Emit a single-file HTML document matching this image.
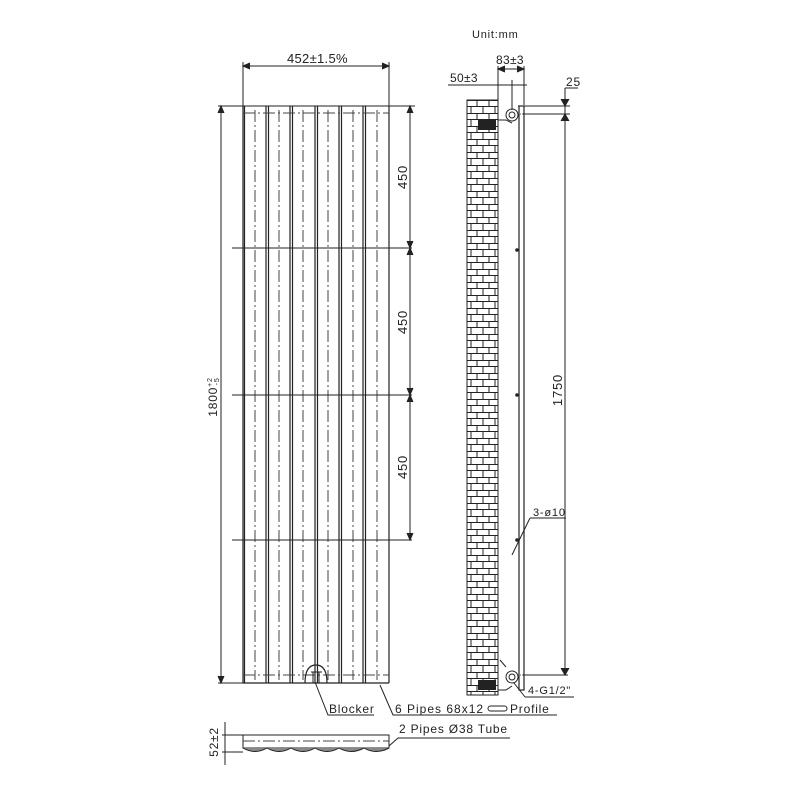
<!DOCTYPE html>
<html><head><style>body{margin:0;background:#fff}svg{display:block}text{font-family:"Liberation Sans",sans-serif;fill:#222}</style></head><body>
<svg width="800" height="800" viewBox="0 0 800 800" xmlns="http://www.w3.org/2000/svg">
<defs>
<pattern id="brick" x="467" y="100" width="30" height="13" patternUnits="userSpaceOnUse">
<rect width="30" height="13" fill="#fff"/>
<path d="M0 0.5H30M0 6.5H30M10 0V6.5M22 0V6.5M4 6.5V13M16 6.5V13M28 6.5V13" stroke="#222" stroke-width="1" fill="none"/>
</pattern>
</defs>
<g stroke="#222" stroke-width="1" fill="none">
<line x1="243" y1="62" x2="243" y2="112"/><line x1="389" y1="62" x2="389" y2="112"/>
<line x1="243" y1="66" x2="389" y2="66"/>
<line x1="218" y1="106" x2="415" y2="106"/>
<line x1="221" y1="106" x2="221" y2="683"/>
<line x1="218" y1="683" x2="243" y2="683"/>
<g stroke-width="1.2">
<path d="M243 106V683M244.5 106V683M266 106V683M268.5 106V683M290 106V683M292.5 106V683M315 106V683M317.5 106V683M339 106V683M341.5 106V683M363 106V683M365.5 106V683M389 106V683"/>
<line x1="243" y1="683" x2="389" y2="683"/>
</g>
<g stroke-dasharray="12,3,2,3" stroke="#444">
<path d="M255 110V680M279 110V680M303 110V680M328 110V680M353 110V680M377 110V680"/>
<line x1="243" y1="113" x2="389" y2="113"/>
<line x1="243" y1="675" x2="389" y2="675"/>
</g>
<path d="M232 248H412M232 395H412M232 540H412"/>
<line x1="410" y1="106" x2="410" y2="540"/>
<path d="M218 113l3 -7l3 7M218 676l3 7l3 -7M407 113l3 -7l3 7M407 241l3 7l3 -7M407 255l3 -7l3 7M407 388l3 7l3 -7M407 402l3 -7l3 7M407 533l3 7l3 -7M250 63l-7 3l7 3M382 63l7 3l-7 3" fill="#222"/>
<path d="M305 683 Q305 665 316 665 Q327 665 327 683" stroke-width="1.2"/>
<path d="M311 672H322M313 672V683M319 672V683"/>
<path d="M315 682L328 715H374"/>
<path d="M380 685L393 715H557"/>
<rect x="488" y="706" width="19" height="5" rx="2.5"/>
<rect x="243" y="735" width="146" height="13"/>
<line x1="243" y1="741" x2="389" y2="741" stroke-dasharray="12,3,2,3" stroke="#444"/>
<path d="M243 748q12 7 24 0q12 7 24 0q12 7 24 0q12 7 24 0q12 7 25 0q12 7 25 0" fill="#888"/>
<path d="M222 735H243M222 752H243M225 722V765"/>
<path d="M389 746L398 738H510"/>
<rect x="467" y="100" width="31" height="595" fill="url(#brick)" stroke="#222"/>
<path d="M498 66V105M524 66V105M498 69H524M448 85H527M512 80V110M565 88H578M565 88V675M518 106H570M520 114H570M520 675H568"/>
<path d="M561 99l4 7l4 -7M561 121l4 -7l4 7M561 668l4 7l4 -7M505 66l-7 3l7 3M517 66l7 3l-7 3" fill="#222"/>
<rect x="519" y="106" width="5" height="584" stroke-width="1.2"/>
<line x1="521.5" y1="110" x2="521.5" y2="686" stroke="#fff" stroke-width="1.5" stroke-dasharray="6,6"/>
<circle cx="512" cy="115" r="6"/><circle cx="512" cy="115" r="3"/>
<circle cx="512" cy="677" r="6"/><circle cx="512" cy="677" r="3"/>
<path d="M498 120H506L512 123M498 690H506L512 686M506 667L500 660"/>
<path d="M530 518H566M530 518L512 555"/>
<path d="M525 697H574M525 697L514 683"/>
</g>
<rect x="478" y="120" width="18" height="10" fill="#222"/>
<rect x="478" y="680" width="18" height="10" fill="#222"/>
<circle cx="517" cy="540" r="1.8" fill="#222"/>
<circle cx="517" cy="250" r="1.8" fill="#222"/>
<circle cx="517" cy="395" r="1.8" fill="#222"/>
<g font-size="12" letter-spacing="0.8">
<text x="287" y="63" font-size="13" letter-spacing="0.3">452±1.5%</text>
<text transform="translate(407,177) rotate(-90)" text-anchor="middle" font-size="13">450</text>
<text transform="translate(407,322) rotate(-90)" text-anchor="middle" font-size="13">450</text>
<text transform="translate(407,467) rotate(-90)" text-anchor="middle" font-size="13">450</text>
<text transform="translate(217,397) rotate(-90)" text-anchor="middle">1800<tspan font-size="7" dy="-5">+2</tspan><tspan font-size="7" dx="-8" dy="7">-5</tspan></text>
<text transform="translate(218,742) rotate(-90)" text-anchor="middle">52±2</text>
<text x="329" y="713">Blocker</text>
<text x="395" y="713" letter-spacing="1">6 Pipes 68x12</text>
<text x="510" y="713">Profile</text>
<text x="399" y="733">2 Pipes Ø38 Tube</text>
<text x="472" y="38" font-size="11">Unit:mm</text>
<text x="496" y="64" letter-spacing="0.3">83±3</text>
<text x="450" y="82" letter-spacing="0.3">50±3</text>
<text x="566" y="86">25</text>
<text transform="translate(562,390) rotate(-90)" text-anchor="middle" font-size="13">1750</text>
<text x="533" y="516" font-size="11">3-ø10</text>
<text x="528" y="694" font-size="11">4-G1/2"</text>
</g>
</svg>
</body></html>
